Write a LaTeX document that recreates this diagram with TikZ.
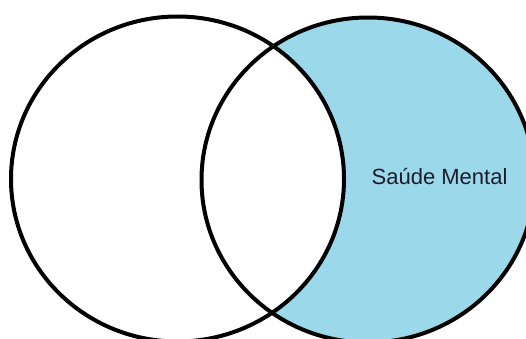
\documentclass[tikz,border=0pt]{standalone}
\usepackage{fontspec}
\setmainfont{Liberation Sans}
\definecolor{venn}{RGB}{155,217,234}
\definecolor{ink}{RGB}{28,28,45}

\begin{document}
\begin{tikzpicture}[x=1pt, y=-1pt,
set/.style={draw=black, line width=4pt},
settext/.style={font=\fontsize{22}{26}\selectfont, text=ink, inner sep=0pt, anchor=base west}]
\useasboundingbox (0,0) rectangle (526,338);
\coordinate (left) at (177.5,179);
\coordinate (right) at (368,180);
% shaded part: right set without the left one
\fill[venn] (right) ellipse [x radius=166.5pt, y radius=162.5pt];
\fill[white] (left) ellipse [x radius=166.5pt, y radius=162.5pt];
\draw[set] (left) ellipse [x radius=166.5pt, y radius=162.5pt];
\draw[set] (right) ellipse [x radius=166.5pt, y radius=162.5pt];
\node[settext] (saude) at (371.5,184.5) {Saúde Mental};
\end{tikzpicture}
\end{document}
